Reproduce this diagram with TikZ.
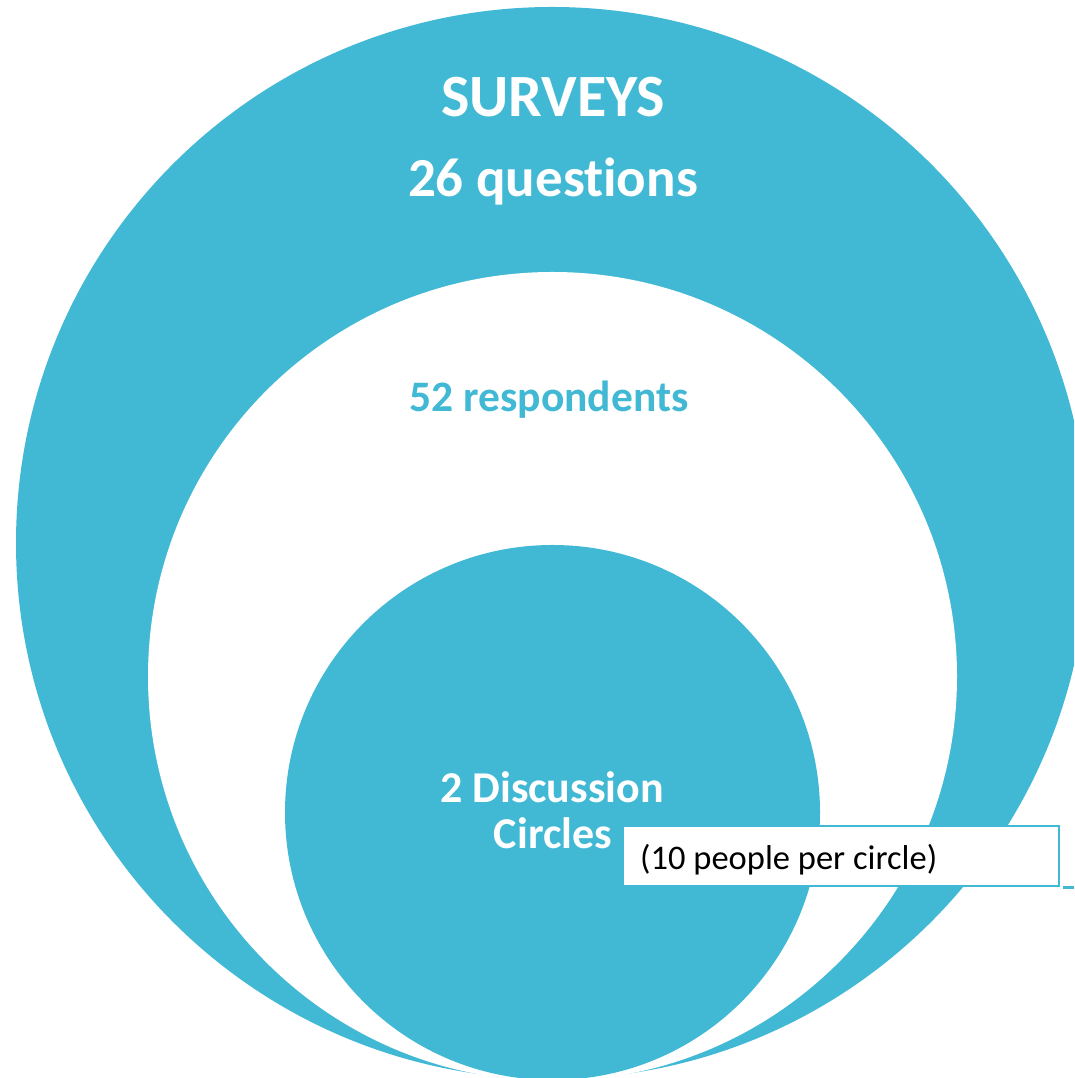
\documentclass[tikz,border=0pt]{standalone}
\usepackage{fontspec}
\setmainfont{Carlito}[Ligatures={NoCommon}]
\definecolor{sky}{HTML}{42B9D4}
\begin{document}
\begin{tikzpicture}[x=1pt,y=1pt,
  whitetxt/.style={text=white,font=\bfseries\fontsize{#1}{#1}\selectfont,anchor=base,inner sep=0pt},
  bluetxt/.style={text=sky,font=\bfseries\fontsize{#1}{#1}\selectfont,anchor=base,inner sep=0pt}]
\useasboundingbox (0,0) rectangle (1074,1078);
\clip (0,0) rectangle (1074,1078);
% outer circle
\fill[sky] (552,535) circle[radius=536];
% middle circle
\fill[white] (552.5,401.5) circle[radius=404.5];
% inner circle
\fill[sky] (552.5,265.5) circle[radius=267.5];
% labels
\node[whitetxt=60] (surveys) at (553,961) {SURVEYS};
\node[whitetxt=55] (questions) at (553,881) {26 questions};
\node[bluetxt=43.5] (resp) at (549,666) {52 respondents};
\node[whitetxt=44] (disc) at (552,275) {2 Discussion};
\node[whitetxt=44] (circ) at (553,229) {Circles};
% box
\node[draw=sky,line width=1.5pt,fill=white,anchor=south west,minimum width=436,minimum height=60,inner sep=0pt] (box) at (622,191) {};
\node[anchor=base west,inner sep=0pt,font=\fontsize{34.5}{34.5}\selectfont,text=black] (boxtxt) at (640,208) {(10 people per circle)};
\coordinate (m1) at (1063,190);
\coordinate (m2) at (1074,190);
\draw[sky,line width=3pt] (m1) -- (m2);
\end{tikzpicture}
\end{document}
